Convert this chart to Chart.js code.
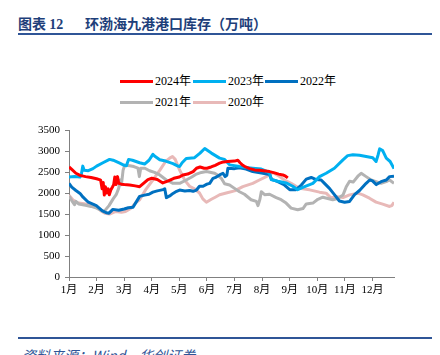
<!DOCTYPE html>
<html>
<head>
<meta charset="utf-8">
<script src="https://cdn.jsdelivr.net/npm/chart.js@4.4.1/dist/chart.umd.min.js"></script>
<style>
  html, body { margin: 0; padding: 0; background: #fff; width: 440px; height: 355px; overflow: hidden; position: relative; }
  .abs { position: absolute; white-space: nowrap; }
  .title { font-family: "Noto Sans CJK SC", sans-serif; font-weight: bold; font-size: 14px; color: #1e3f7a; line-height: 14px; }
  .title .num { font-family: "Liberation Serif", "Times New Roman", serif; }
  .rule { position: absolute; left: 18px; width: 414px; background: #2f5597; }
  .leg-line { position: absolute; width: 33px; height: 3px; }
  .leg-text { position: absolute; font-family: "Liberation Serif", "Times New Roman", "Noto Sans CJK SC", serif; font-size: 12px; line-height: 12px; color: #000; }
  .src { font-family: "Noto Sans CJK SC", sans-serif; font-size: 14px; color: #2f5597; line-height: 20px; font-style: italic; }
  canvas { position: absolute; left: 0; top: 110px; }
</style>
</head>
<body>
<div class="abs title" style="left:18px; top:16px;">图表 <span class="num">12</span></div>
<div class="abs title" style="left:85px; top:16px;">环渤海九港港口库存（万吨）</div>
<div class="rule" style="top:33px; height:2px;"></div>

<div id="legend"></div>

<canvas id="c" width="440" height="200"></canvas>

<div class="rule" style="top:337px; height:2px;"></div>
<div class="abs src" style="left:22px; top:345px;">资料来源：Wind，华创证券</div>

<script>
const monthLabels = ['1月','2月','3月','4月','5月','6月','7月','8月','9月','10月','11月','12月'];
const yTicks = [0, 500, 1000, 1500, 2000, 2500, 3000, 3500];
const seriesNames = ['2024年','2023年','2022年','2021年','2020年'];
const seriesColors = ['#ff0000','#00b0f0','#0070c0','#b3b3b3','#e8b9b8'];

// [month position (0 = 1月初), 万吨]
const s2024 = [[0,2620],[0.1,2560],[0.25,2470],[0.4,2420],[0.6,2390],[0.8,2370],[1.0,2340],[1.1,2320],[1.15,2300],[1.2,2100],[1.24,2250],[1.28,1950],[1.32,2150],[1.36,2000],[1.42,2100],[1.46,1960],[1.52,2080],[1.58,2150],[1.62,2200],[1.66,2380],[1.7,2200],[1.76,2390],[1.8,2230],[1.9,2210],[2.0,2200],[2.2,2190],[2.4,2170],[2.56,2150],[2.7,2230],[2.86,2320],[3.0,2350],[3.2,2320],[3.4,2240],[3.6,2290],[3.8,2350],[4.0,2380],[4.13,2430],[4.3,2450],[4.5,2510],[4.62,2590],[4.75,2620],[4.9,2590],[5.0,2590],[5.15,2620],[5.3,2660],[5.46,2710],[5.6,2740],[5.75,2750],[6.0,2760],[6.12,2780],[6.2,2720],[6.3,2660],[6.4,2620],[6.55,2580],[6.73,2550],[6.9,2540],[7.05,2530],[7.27,2510],[7.45,2480],[7.6,2450],[7.75,2430],[7.85,2400],[7.93,2360]];

const s2023 = [[0,2380],[0.2,2390],[0.4,2380],[0.45,2450],[0.5,2640],[0.55,2540],[0.7,2530],[0.87,2580],[1.0,2640],[1.23,2720],[1.47,2800],[1.6,2780],[1.84,2710],[2.0,2660],[2.08,2650],[2.16,2800],[2.3,2780],[2.56,2720],[2.74,2690],[2.9,2780],[3.04,2920],[3.1,2880],[3.29,2790],[3.5,2760],[3.77,2700],[3.95,2640],[4.01,2630],[4.1,2720],[4.25,2820],[4.55,2840],[4.75,2950],[4.92,3060],[5.16,2950],[5.46,2830],[5.64,2800],[5.82,2670],[6.18,2630],[6.4,2610],[6.66,2590],[6.97,2570],[7.15,2520],[7.27,2470],[7.33,2320],[7.57,2280],[7.87,2240],[8.11,2160],[8.29,2080],[8.54,2150],[8.84,2230],[9.08,2390],[9.32,2470],[9.62,2590],[9.93,2790],[10.1,2890],[10.29,2910],[10.53,2900],[10.77,2870],[11.01,2840],[11.13,2750],[11.2,2900],[11.26,3050],[11.37,3010],[11.5,2830],[11.64,2750],[11.78,2580]];

const s2022 = [[0,2230],[0.1,2140],[0.25,2060],[0.4,1990],[0.51,1900],[0.7,1780],[0.99,1700],[1.2,1580],[1.35,1530],[1.45,1520],[1.59,1610],[1.8,1590],[2.0,1620],[2.15,1650],[2.32,1660],[2.45,1800],[2.56,1920],[2.74,1950],[2.9,1970],[3.04,2020],[3.2,2050],[3.41,2080],[3.47,2100],[3.53,1890],[3.65,1930],[3.77,1990],[3.9,2040],[4.01,2070],[4.2,2050],[4.37,2060],[4.5,2040],[4.62,2070],[4.73,2160],[4.86,2160],[5.0,2210],[5.1,2230],[5.22,2350],[5.34,2380],[5.46,2430],[5.58,2470],[5.66,2390],[5.72,2420],[5.76,2590],[6.0,2580],[6.18,2600],[6.42,2570],[6.66,2510],[7.03,2470],[7.27,2440],[7.35,2320],[7.45,2300],[7.57,2270],[7.81,2190],[8.0,2080],[8.23,2080],[8.42,2190],[8.6,2330],[8.78,2370],[8.96,2320],[9.14,2310],[9.26,2230],[9.44,2110],[9.62,1960],[9.8,1810],[9.99,1780],[10.17,1800],[10.35,1960],[10.53,2060],[10.77,2230],[10.9,2310],[11.0,2290],[11.14,2200],[11.31,2270],[11.5,2310],[11.62,2390],[11.78,2400]];

const s2021 = [[0,1930],[0.1,1820],[0.2,1720],[0.25,1800],[0.35,1740],[0.6,1710],[0.8,1680],[1.0,1640],[1.13,1600],[1.26,1550],[1.45,1700],[1.6,1860],[1.71,1960],[1.8,2110],[1.86,2310],[1.9,2200],[1.96,2540],[2.02,2660],[2.2,2650],[2.35,2630],[2.5,2590],[2.55,2390],[2.6,2590],[2.75,2590],[2.92,2530],[3.1,2490],[3.29,2430],[3.53,2310],[3.77,2230],[4.01,2230],[4.25,2310],[4.45,2380],[4.62,2450],[4.8,2490],[4.98,2510],[5.15,2490],[5.28,2470],[5.4,2420],[5.52,2350],[5.64,2220],[5.82,2190],[6.0,2110],[6.18,2030],[6.36,1970],[6.6,1840],[6.79,1800],[6.85,1700],[6.92,1850],[6.97,2030],[7.09,1960],[7.27,1970],[7.51,1890],[7.69,1840],[7.87,1760],[8.05,1640],[8.29,1600],[8.48,1630],[8.6,1740],[8.84,1760],[9.02,1850],[9.2,1900],[9.38,1870],[9.56,1840],[9.74,1870],[9.93,1950],[10.05,2150],[10.17,2280],[10.3,2260],[10.47,2400],[10.59,2470],[10.77,2390],[10.95,2310],[11.13,2270],[11.31,2230],[11.5,2270],[11.62,2310],[11.78,2230]];

const s2020 = [[0,1950],[0.15,1830],[0.3,1770],[0.6,1740],[0.9,1720],[1.0,1680],[1.15,1580],[1.3,1520],[1.47,1500],[1.7,1560],[1.9,1540],[2.05,1560],[2.25,1640],[2.4,1760],[2.56,1840],[2.8,2100],[3.04,2310],[3.3,2550],[3.5,2750],[3.65,2830],[3.75,2870],[3.85,2800],[4.0,2560],[4.2,2300],[4.37,2160],[4.55,2100],[4.73,2000],[4.85,1860],[4.98,1780],[5.16,1850],[5.3,1900],[5.46,1960],[5.7,2000],[6.0,2050],[6.3,2150],[6.66,2230],[6.9,2310],[7.15,2390],[7.27,2430],[7.39,2490],[7.57,2420],[7.81,2310],[8.05,2230],[8.35,2110],[8.72,2075],[9.08,2020],[9.32,1996],[9.5,1880],[9.68,1916],[9.93,1890],[10.17,1956],[10.47,1996],[10.65,1956],[10.89,1877],[11.13,1782],[11.37,1734],[11.62,1679],[11.7,1700],[11.78,1780]];

const seriesData = [s2024, s2023, s2022, s2021, s2020];

// HTML legend (two rows, left-aligned like the original)
const legendPos = [[120,81],[193,81],[265,81],[120,102],[193,102]];
const legend = document.getElementById('legend');
seriesNames.forEach((name, i) => {
  const [lx, ly] = legendPos[i];
  const line = document.createElement('div');
  line.className = 'leg-line';
  line.style.left = lx + 'px';
  line.style.top = (ly - 1.5) + 'px';
  line.style.background = seriesColors[i];
  legend.appendChild(line);
  const t = document.createElement('div');
  t.className = 'leg-text';
  t.style.left = (lx + 35) + 'px';
  t.style.top = (ly - 6) + 'px';
  t.textContent = name;
  legend.appendChild(t);
});

const tickFont = { family: '"Liberation Serif", "Times New Roman", "Noto Sans CJK SC", serif', size: 11 };
const axisColor = '#808080';

new Chart(document.getElementById('c'), {
  type: 'line',
  data: {
    datasets: seriesData.map((s, i) => ({
      label: seriesNames[i],
      data: s.map(p => ({ x: p[0], y: p[1] })),
      borderColor: seriesColors[i],
      backgroundColor: seriesColors[i],
      borderWidth: 3,
      pointRadius: 0,
      tension: 0,
      fill: false,
      borderJoinStyle: 'round'
    }))
  },
  options: {
    responsive: false,
    animation: false,
    devicePixelRatio: 1,
    layout: { padding: { left: 0, right: 46, top: 20, bottom: 8 } },
    plugins: { legend: { display: false }, tooltip: { enabled: false } },
    scales: {
      x: {
        type: 'linear',
        min: 0,
        max: 11.78,
        afterBuildTicks: axis => { axis.ticks = monthLabels.map((_, i) => ({ value: i })); },
        afterFit: scale => { scale.height = 25; },
        ticks: {
          autoSkip: false,
          maxRotation: 0,
          padding: 3,
          color: '#000',
          font: tickFont,
          callback: v => monthLabels[v]
        },
        grid: { drawOnChartArea: false, drawTicks: true, tickLength: 4, color: axisColor },
        border: { display: true, color: axisColor }
      },
      y: {
        min: 0,
        max: 3500,
        afterBuildTicks: axis => { axis.ticks = yTicks.map(v => ({ value: v })); },
        afterFit: scale => { scale.width = 69; },
        ticks: { padding: 5, color: '#000', font: tickFont, callback: v => String(v) },
        grid: { drawOnChartArea: false, drawTicks: true, tickLength: 4, color: axisColor },
        border: { display: true, color: axisColor }
      }
    }
  }
});
</script>
</body>
</html>
